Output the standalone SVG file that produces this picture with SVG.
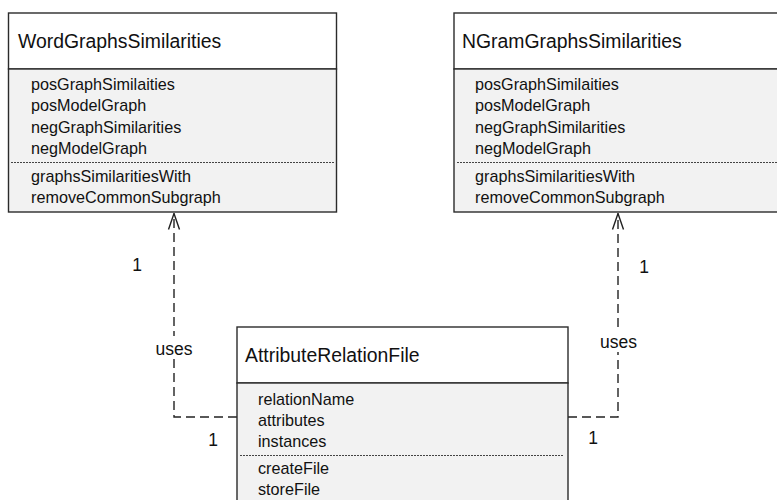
<svg xmlns="http://www.w3.org/2000/svg" width="777" height="500" viewBox="0 0 777 500">
  <defs>
    <style>
      .box { stroke: #2b2b2b; stroke-width: 1.4; }
      .head { fill: #ffffff; }
      .body { fill: #f2f2f2; }
      .sep { stroke: #444; stroke-width: 1; stroke-dasharray: 2 1; fill: none; }
      .title { font-family: "Liberation Sans", Arial, sans-serif; font-size: 19.4px; fill: #111; }
      .member { font-family: "Liberation Sans", Arial, sans-serif; font-size: 16.2px; fill: #111; }
      .label { font-family: "Liberation Sans", Arial, sans-serif; font-size: 17.5px; fill: #111; }
      .dep { stroke: #222; stroke-width: 1.4; stroke-dasharray: 9 5; fill: none; }
    </style>
    <marker id="open-arrow" viewBox="0 0 18 14" refX="17" refY="7" markerWidth="18" markerHeight="14" markerUnits="userSpaceOnUse" orient="auto">
      <path d="M1,1.5 L17,7 L1,12.5" fill="none" stroke="#222" stroke-width="1.4"/>
    </marker>
  </defs>

  <rect width="777" height="500" fill="#ffffff"/>

  <!-- connectors -->
  <g id="connectors">
    <path class="dep" d="M237,417 H174 V213.5" marker-end="url(#open-arrow)"/>
    <path class="dep" d="M568,417 H618 V213.5" marker-end="url(#open-arrow)"/>
    <rect x="153" y="336" width="42" height="22" fill="#ffffff"/>
    <rect x="597" y="330" width="43" height="22" fill="#ffffff"/>
    <text class="label" x="174" y="355" text-anchor="middle">uses</text>
    <text class="label" x="618.5" y="348" text-anchor="middle">uses</text>
    <text class="label" x="137" y="271" text-anchor="middle">1</text>
    <text class="label" x="213" y="446" text-anchor="middle">1</text>
    <text class="label" x="644" y="273" text-anchor="middle">1</text>
    <text class="label" x="593" y="444" text-anchor="middle">1</text>
  </g>

  <!-- WordGraphsSimilarities -->
  <g id="word-graphs-similarities">
    <rect class="box head" x="8.5" y="13" width="328" height="56"/>
    <rect class="box body" x="8.5" y="69" width="328" height="143"/>
    <text class="title" x="18" y="48">WordGraphsSimilarities</text>
    <text class="member" x="31" y="90">posGraphSimilaities</text>
    <text class="member" x="31" y="111">posModelGraph</text>
    <text class="member" x="31" y="132.5">negGraphSimilarities</text>
    <text class="member" x="31" y="154">negModelGraph</text>
    <line class="sep" x1="11" y1="162.5" x2="334" y2="162.5"/>
    <text class="member" x="31" y="182">graphsSimilaritiesWith</text>
    <text class="member" x="31" y="203">removeCommonSubgraph</text>
  </g>

  <!-- NGramGraphsSimilarities -->
  <g id="ngram-graphs-similarities">
    <rect class="box head" x="454" y="13" width="330" height="56"/>
    <rect class="box body" x="454" y="69" width="330" height="143"/>
    <text class="title" x="462" y="48">NGramGraphsSimilarities</text>
    <text class="member" x="475" y="90">posGraphSimilaities</text>
    <text class="member" x="475" y="111">posModelGraph</text>
    <text class="member" x="475" y="132.5">negGraphSimilarities</text>
    <text class="member" x="475" y="154">negModelGraph</text>
    <line class="sep" x1="457" y1="162.5" x2="780" y2="162.5"/>
    <text class="member" x="475" y="182">graphsSimilaritiesWith</text>
    <text class="member" x="475" y="203">removeCommonSubgraph</text>
  </g>

  <!-- AttributeRelationFile -->
  <g id="attribute-relation-file">
    <rect class="box head" x="237" y="327" width="331" height="56"/>
    <rect class="box body" x="237" y="383" width="331" height="130"/>
    <text class="title" x="245" y="362">AttributeRelationFile</text>
    <text class="member" x="258" y="405">relationName</text>
    <text class="member" x="258" y="426">attributes</text>
    <text class="member" x="258" y="447">instances</text>
    <line class="sep" x1="240" y1="455.5" x2="563" y2="455.5"/>
    <text class="member" x="258" y="474">createFile</text>
    <text class="member" x="258" y="495">storeFile</text>
  </g>
</svg>
